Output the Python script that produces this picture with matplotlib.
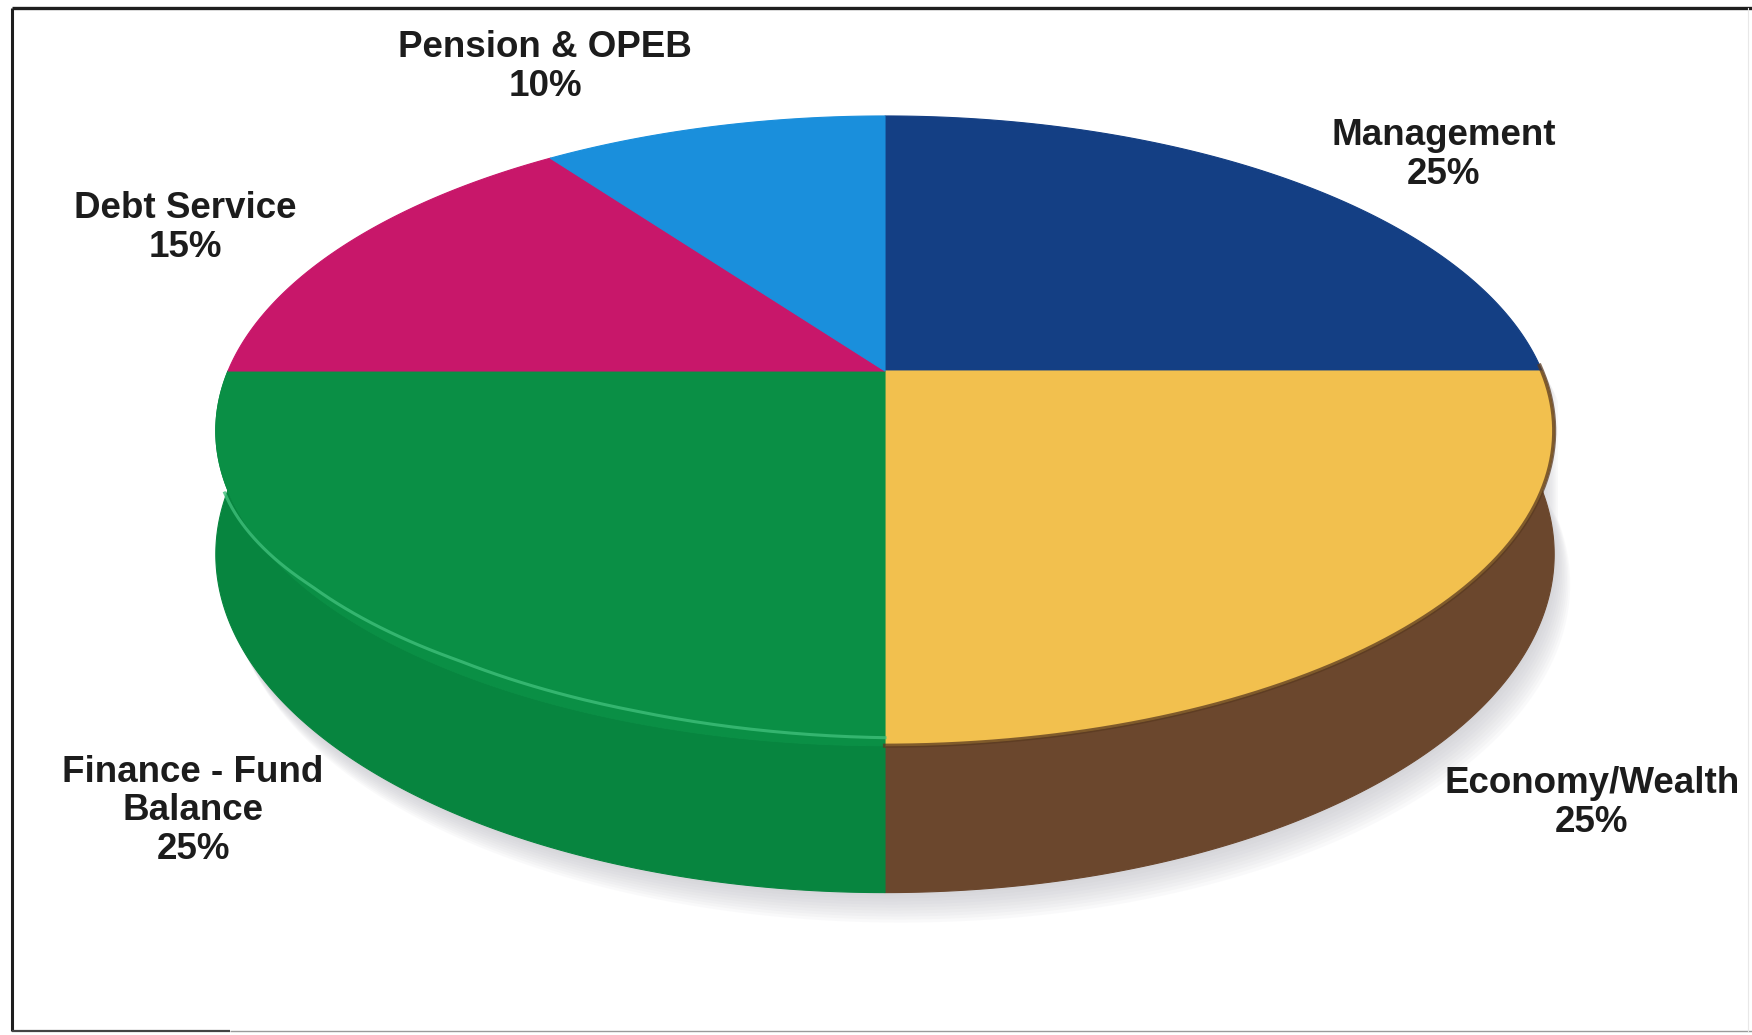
import numpy as np
import matplotlib
matplotlib.use("Agg")
import matplotlib.pyplot as plt
from matplotlib.patches import Polygon

# ---- data ----
categories = ["Management", "Economy/Wealth", "Finance - Fund\nBalance", "Debt Service", "Pension & OPEB"]
shares = [25, 25, 25, 15, 10]

# ---- styles ----
top_colors = ["#143f84", "#f2c04e", "#0a8f45", "#c8176a", "#1a8fdc"]
side_colors = ["#0e2f66", "#6b472d", "#07853f", "#9a1252", "#1470b0"]
label_pos = [(1444, 155), (1592, 803), (193, 811), (185, 228), (545, 67)]

W, H = 1752, 1035
fig = plt.figure(figsize=(W / 100, H / 100), dpi=100)
ax = fig.add_axes([0, 0, 1, 1])
ax.set_xlim(0, W)
ax.set_ylim(H, 0)
ax.axis("off")

# perspective disk geometry
CX, CY = 885, 371
A, B, K = 657, 303.5, 0.19
T = 119


def proj(theta_deg, dz=0.0):
    th = np.radians(theta_deg)
    u, v = np.cos(th), np.sin(th)
    s = 1 + K * v
    return CX + A * u / s, CY - B * v / s + dz * T / s


def arc(a0, a1, dz=0.0, n=240):
    th = np.linspace(a0, a1, n)
    x, y = proj(th, dz)
    return np.column_stack([x, y])


# slice angles: start at 12 o'clock, clockwise
total = float(sum(shares))
bounds = [90 - 360 * c / total for c in np.concatenate([[0], np.cumsum(shares)])]

# ---- soft shadow: stacked, progressively shifted copies of the outline ----
outline = np.vstack([arc(0, 180), arc(180, 360, dz=1.0)])
for i in range(1, 11):
    ax.add_patch(Polygon(outline + np.array([1.6 * i, 3.0 * i]), closed=True,
                         facecolor="#b8b8c0", edgecolor="none", alpha=0.07, zorder=1))

# ---- sides (front half only) ----
for i in range(len(shares)):
    a1, a2 = bounds[i], bounds[i + 1]
    hi, lo = a1, a2
    while hi > 0 and lo >= 0:
        hi -= 360
        lo -= 360
    hi_c, lo_c = min(hi, 0), max(lo, -180)
    if hi_c <= lo_c:
        continue
    top = arc(hi_c, lo_c)
    bot = arc(lo_c, hi_c, dz=1.0)
    ax.add_patch(Polygon(np.vstack([top, bot]), closed=True, facecolor=side_colors[i],
                         edgecolor=side_colors[i], linewidth=0.8, zorder=2))

# ---- top faces ----
for i in range(len(shares)):
    a1, a2 = bounds[i], bounds[i + 1]
    pts = np.vstack([[CX, CY], arc(a1, a2)])
    ax.add_patch(Polygon(pts, closed=True, facecolor=top_colors[i],
                         edgecolor=top_colors[i], linewidth=0.8, zorder=3))

# dark fuzzy rim on the yellow slice
rim_y = arc(bounds[1] + 1, bounds[2])
ax.plot(rim_y[:, 0], rim_y[:, 1], color="#5a3a20", lw=3.0, alpha=0.75, zorder=4)

# light seam on the green side
th = np.linspace(-160, -90, 200)
gx, gy = proj(th)
gy = gy + np.interp(th, [-160, -140, -123, -108, -90], [11, -7, -13, -12, -8])
ax.plot(gx, gy, color="#3fbf7a", lw=2.2, alpha=0.8, zorder=4)

# ---- labels ----
for i, name in enumerate(categories):
    x, y = label_pos[i]
    ax.text(x, y, f"{name}\n{shares[i]}%", ha="center", va="center",
            multialignment="center", fontsize=26.5, fontweight="bold",
            family=["Liberation Sans", "DejaVu Sans"], color="#1c1c1c",
            linespacing=1.13, zorder=5)

# ---- frame ----
ax.plot([12, W], [8, 8], color="#1e1e1e", lw=2.4, zorder=6, solid_capstyle="butt")
ax.plot([12, 12], [8, 1031], color="#1e1e1e", lw=2.2, zorder=6, solid_capstyle="butt")
ax.plot([12, 230], [1031, 1031], color="#444444", lw=1.6, zorder=6, solid_capstyle="butt")
ax.plot([230, W], [1031, 1031], color="#9a9a9a", lw=1.0, zorder=6, solid_capstyle="butt")
ax.plot([1748, 1748], [8, 1031], color="#e8e8e8", lw=0.8, zorder=6)

fig.savefig("out.png", dpi=100, facecolor="white")
